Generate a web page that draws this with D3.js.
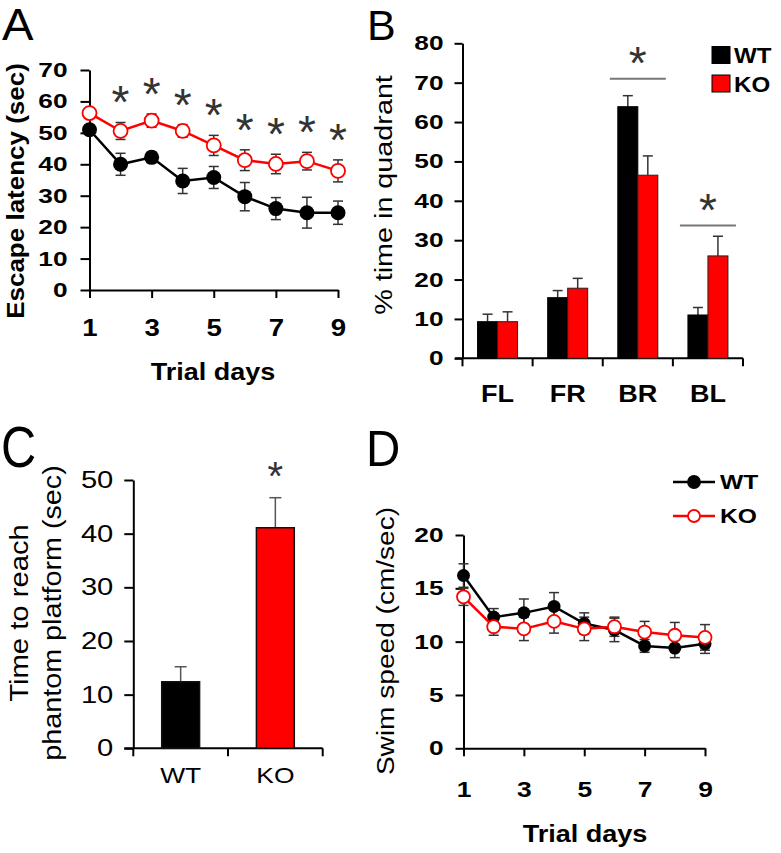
<!DOCTYPE html>
<html><head><meta charset="utf-8">
<script src="https://cdn.jsdelivr.net/npm/d3@7"></script>
<style>
html,body{margin:0;padding:0;background:#fff;}
svg{display:block;font-family:"Liberation Sans",Arial,Helvetica,sans-serif;}
</style></head><body>
<svg id="chart" width="781" height="853"></svg>
<script>
// ---------- DATA ----------
const days = [1, 2, 3, 4, 5, 6, 7, 8, 9];
const dayTicks = [1, 3, 5, 7, 9];

// Panel A: escape latency (sec)
const latencyWT    = [51.0, 40.0, 42.2, 34.7, 35.8, 29.7, 25.9, 24.6, 24.6];
const latencyWTErr = [1.5, 3.5, 1.7, 4.0, 3.5, 4.5, 3.5, 4.9, 3.7];
const latencyKO    = [56.3, 50.6, 53.9, 50.6, 46.0, 41.3, 40.1, 41.0, 37.9];
const latencyKOErr = [1.2, 2.7, 2.1, 2.0, 3.2, 3.3, 3.1, 2.8, 3.5];
const latencySig   = [false, true, true, true, true, true, true, true, true];
const latencyTicks = [0, 10, 20, 30, 40, 50, 60, 70];

// Panel B: % time in quadrant
const quadrants  = ["FL", "FR", "BR", "BL"];
const quadWT     = [9.3, 15.4, 63.9, 11.0];
const quadWTErr  = [1.9, 1.8, 2.8, 1.9];
const quadKO     = [9.3, 17.8, 46.5, 26.0];
const quadKOErr  = [2.5, 2.5, 4.9, 5.0];
const quadSigCats   = ["BR", "BL"];
const quadSigLevels = [71.0, 33.7];
const quadTicks  = [0, 10, 20, 30, 40, 50, 60, 70, 80];

// Panel C: time to reach phantom platform (sec)
const genotypes   = ["WT", "KO"];
const phantomVal  = [12.4, 41.1];
const phantomErr  = [2.8, 5.6];
const phantomSig  = [false, true];
const phantomTicks = [0, 10, 20, 30, 40, 50];

// Panel D: swim speed (cm/sec)
const speedWT    = [16.2, 12.3, 12.7, 13.3, 11.7, 11.1, 9.6, 9.4, 9.8];
const speedWTErr = [1.1, 0.8, 1.3, 1.3, 1.0, 1.1, 0.6, 0.9, 0.9];
const speedKO    = [14.2, 11.4, 11.2, 11.9, 11.2, 11.4, 10.9, 10.6, 10.4];
const speedKOErr = [0.8, 0.8, 1.1, 1.1, 1.1, 0.9, 1.0, 1.2, 1.2];
const speedTicks = [0, 5, 10, 15, 20];

// ---------- HELPERS ----------
const RED = "#ff0000";
const svg = d3.select("#chart");

function widen(sel, k) {
  sel.each(function () {
    const L = this.getComputedTextLength();
    d3.select(this).attr("textLength", L * k).attr("lengthAdjust", "spacingAndGlyphs");
  });
}
function styleAxis(g, size, weight, k) {
  g.select(".domain").attr("stroke", "#000").attr("stroke-width", 2);
  g.selectAll(".tick line").attr("stroke", "#000").attr("stroke-width", 2);
  const t = g.selectAll(".tick text").attr("fill", "#000")
    .attr("font-family", '"Liberation Sans", Arial, sans-serif')
    .attr("font-size", size).attr("font-weight", weight);
  widen(t, k);
}
function label(x, y, txt, size, weight, k, rotate, anchor) {
  const t = svg.append("text")
    .attr("transform", `translate(${x},${y})` + (rotate ? " rotate(-90)" : ""))
    .attr("text-anchor", anchor || "middle")
    .attr("font-size", size).attr("font-weight", weight || "normal")
    .attr("fill", "#000").text(txt);
  widen(t, k);
  return t;
}
function star(g, cx, cy, size) {
  const t = g.append("text").attr("x", cx).attr("y", cy)
    .attr("text-anchor", "middle").attr("font-size", size)
    .attr("fill", "#333").text("*");
  const b = t.node().getBBox();
  t.attr("y", cy + (cy - (b.y + b.height / 2)));
  return t;
}
function errBar(g, x, y0, y1, cap, color, sw) {
  g.append("line").attr("x1", x).attr("x2", x).attr("y1", y0).attr("y2", y1)
    .attr("stroke", color).attr("stroke-width", sw);
  g.append("line").attr("x1", x - cap).attr("x2", x + cap).attr("y1", y1).attr("y2", y1)
    .attr("stroke", color).attr("stroke-width", sw);
}
function errBarBoth(g, x, yLo, yHi, cap, color, sw) {
  g.append("line").attr("x1", x).attr("x2", x).attr("y1", yLo).attr("y2", yHi)
    .attr("stroke", color).attr("stroke-width", sw);
  [yLo, yHi].forEach(yy => g.append("line").attr("x1", x - cap).attr("x2", x + cap)
    .attr("y1", yy).attr("y2", yy).attr("stroke", color).attr("stroke-width", sw));
}

// ---------- PANEL LETTERS ----------
label(2, 40, "A", 45, "normal", 1.05, false, "start");
label(367, 40, "B", 43, "normal", 1.0, false, "start");
label(1, 467, "C", 58, "normal", 0.84, false, "start");
label(366, 466, "D", 50, "normal", 0.95, false, "start");

// ---------- PANEL A ----------
(function () {
  const x = d3.scaleLinear().domain([1, 9]).range([89.5, 338]);
  const y = d3.scaleLinear().domain([0, 70]).range([290, 70]);
  const g = svg.append("g");
  const ay = g.append("g").attr("transform", `translate(${x(1)},0)`)
    .call(d3.axisLeft(y).tickValues(latencyTicks).tickSize(9).tickSizeOuter(0).tickPadding(13));
  styleAxis(ay, 20.5, "bold", 1.28);
  const ax = g.append("g").attr("transform", `translate(0,${y(0)})`)
    .call(d3.axisBottom(x).tickValues(dayTicks).tickSize(8).tickSizeOuter(0).tickPadding(22));
  styleAxis(ax, 23, "bold", 1.2);

  const eb = g.append("g");
  days.forEach((d, i) => {
    errBarBoth(eb, x(d), y(latencyWT[i] - latencyWTErr[i]), y(latencyWT[i] + latencyWTErr[i]), 5, "#333", 1.5);
    errBarBoth(eb, x(d), y(latencyKO[i] - latencyKOErr[i]), y(latencyKO[i] + latencyKOErr[i]), 5, "#333", 1.5);
  });
  const line = d3.line().x((v, i) => x(days[i])).y(v => y(v));
  g.append("path").datum(latencyWT).attr("d", line).attr("fill", "none").attr("stroke", "#000").attr("stroke-width", 2.5);
  g.append("path").datum(latencyKO).attr("d", line).attr("fill", "none").attr("stroke", RED).attr("stroke-width", 2.5);
  g.selectAll(".wtA").data(latencyWT).join("circle").attr("cx", (v, i) => x(days[i])).attr("cy", v => y(v))
    .attr("r", 7.5).attr("fill", "#000");
  g.selectAll(".koA").data(latencyKO).join("circle").attr("cx", (v, i) => x(days[i])).attr("cy", v => y(v))
    .attr("r", 7).attr("fill", "#fff").attr("stroke", RED).attr("stroke-width", 1.8);
  days.forEach((d, i) => {
    if (latencySig[i]) star(g, x(d), y(latencyKO[i] + latencyKOErr[i]) - 20, 46);
  });
  label(213, 380, "Trial days", 24.5, "bold", 1.1);
  label(23.5, 191, "Escape latency (sec)", 23, "bold", 1.13, true);
})();

// ---------- PANEL B ----------
(function () {
  const x = d3.scaleBand().domain(quadrants).range([462.5, 743]).padding(0);
  const xs = d3.scaleBand().domain(genotypes).range([x.bandwidth() / 2 - 20, x.bandwidth() / 2 + 20]);
  const y = d3.scaleLinear().domain([0, 80]).range([358.3, 43.3]);
  const g = svg.append("g");
  const ay = g.append("g").attr("transform", `translate(${x.range()[0]},0)`)
    .call(d3.axisLeft(y).tickValues(quadTicks).tickSize(8).tickSizeOuter(0).tickPadding(11));
  styleAxis(ay, 20.5, "bold", 1.28);
  g.append("line").attr("x1", 455).attr("x2", x.range()[1]).attr("y1", y(0)).attr("y2", y(0))
    .attr("stroke", "#000").attr("stroke-width", 2);
  const bounds = quadrants.map(q => x(q)).concat([x.range()[1]]);
  bounds.forEach(bx => g.append("line").attr("x1", bx).attr("x2", bx).attr("y1", y(0)).attr("y2", y(0) + 8)
    .attr("stroke", "#000").attr("stroke-width", 2));
  quadrants.forEach(q => label(x(q) + x.bandwidth() / 2, 402, q, 23.5, "bold", 1.15));

  const eb = g.append("g");
  quadrants.forEach((q, i) => {
    const xw = x(q) + xs("WT") + xs.bandwidth() / 2, xk = x(q) + xs("KO") + xs.bandwidth() / 2;
    errBar(eb, xw, y(quadWT[i]), y(quadWT[i] + quadWTErr[i]), 5, "#333", 1.5);
    errBar(eb, xk, y(quadKO[i]), y(quadKO[i] + quadKOErr[i]), 5, "#333", 1.5);
  });
  g.selectAll(".bWT").data(quadWT).join("rect")
    .attr("x", (v, i) => x(quadrants[i]) + xs("WT")).attr("width", xs.bandwidth())
    .attr("y", v => y(v)).attr("height", v => y(0) - y(v)).attr("fill", "#000").attr("stroke", "#000").attr("stroke-width", 1);
  g.selectAll(".bKO").data(quadKO).join("rect")
    .attr("x", (v, i) => x(quadrants[i]) + xs("KO")).attr("width", xs.bandwidth())
    .attr("y", v => y(v)).attr("height", v => y(0) - y(v)).attr("fill", RED).attr("stroke", "#222").attr("stroke-width", 1);

  quadSigCats.forEach((q, i) => {
    const cx = x(q) + x.bandwidth() / 2;
    g.append("line").attr("x1", cx - 28).attr("x2", cx + 28).attr("y1", y(quadSigLevels[i])).attr("y2", y(quadSigLevels[i]))
      .attr("stroke", "#777").attr("stroke-width", 2);
    star(g, cx, y(quadSigLevels[i]) - 16, 46);
  });

  [["WT", "#000"], ["KO", RED]].forEach(([name, col], i) => {
    g.append("rect").attr("x", 712).attr("y", 46.5 + i * 28.5).attr("width", 18).attr("height", 17)
      .attr("fill", col).attr("stroke", "#000").attr("stroke-width", 1);
    label(734, 63 + i * 28.5, name, 21.5, "bold", 1.12, false, "start");
  });
  label(392, 195, "% time in quadrant", 23, "normal", 1.25, true);
})();

// ---------- PANEL C ----------
(function () {
  const x = d3.scaleBand().domain(genotypes).range([133.3, 322.7]).paddingInner(0.6).paddingOuter(0.3);
  const y = d3.scaleLinear().domain([0, 50]).range([748.3, 480]);
  const g = svg.append("g");
  const ay = g.append("g").attr("transform", `translate(${x.range()[0]},0)`)
    .call(d3.axisLeft(y).tickValues(phantomTicks).tickSize(9).tickSizeOuter(0).tickPadding(11));
  styleAxis(ay, 23.5, "normal", 1.24);
  g.append("line").attr("x1", x.range()[0] - 9).attr("x2", x.range()[1]).attr("y1", y(0)).attr("y2", y(0))
    .attr("stroke", "#000").attr("stroke-width", 2);
  const r0 = x.range()[0], r1 = x.range()[1];
  [r0, (r0 + r1) / 2, r1].forEach(bx => g.append("line").attr("x1", bx).attr("x2", bx).attr("y1", y(0)).attr("y2", y(0) + 8)
    .attr("stroke", "#000").attr("stroke-width", 2));
  genotypes.forEach(gn => label(x(gn) + x.bandwidth() / 2, 783, gn, 22, "normal", 1.2));

  const eb = g.append("g");
  genotypes.forEach((gn, i) => errBar(eb, x(gn) + x.bandwidth() / 2, y(phantomVal[i]), y(phantomVal[i] + phantomErr[i]), 6, "#555", 1.5));
  g.selectAll(".bC").data(phantomVal).join("rect")
    .attr("x", (v, i) => x(genotypes[i])).attr("width", x.bandwidth())
    .attr("y", v => y(v)).attr("height", v => y(0) - y(v))
    .attr("fill", (v, i) => i === 0 ? "#000" : RED).attr("stroke", "#111").attr("stroke-width", 1.5);
  genotypes.forEach((gn, i) => {
    if (phantomSig[i]) star(g, x(gn) + x.bandwidth() / 2, y(phantomVal[i] + phantomErr[i]) - 22, 40);
  });
  label(28, 613, "Time to reach", 25, "normal", 1.17, true);
  label(61, 613, "phantom platform (sec)", 25, "normal", 1.15, true);
})();

// ---------- PANEL D ----------
(function () {
  const x = d3.scaleLinear().domain([1, 9]).range([463.5, 705]);
  const y = d3.scaleLinear().domain([0, 20]).range([748.3, 535]);
  const g = svg.append("g");
  const ay = g.append("g").attr("transform", `translate(${x(1)},0)`)
    .call(d3.axisLeft(y).tickValues(speedTicks).tickSize(8).tickSizeOuter(0).tickPadding(12));
  styleAxis(ay, 20.5, "bold", 1.28);
  const ax = g.append("g").attr("transform", `translate(0,${y(0)})`)
    .call(d3.axisBottom(x).tickValues(dayTicks).tickSize(8).tickSizeOuter(0).tickPadding(25));
  styleAxis(ax, 22, "bold", 1.2);

  const eb = g.append("g");
  days.forEach((d, i) => {
    errBarBoth(eb, x(d), y(speedWT[i] - speedWTErr[i]), y(speedWT[i] + speedWTErr[i]), 5, "#333", 1.5);
    errBarBoth(eb, x(d), y(speedKO[i] - speedKOErr[i]), y(speedKO[i] + speedKOErr[i]), 5, "#333", 1.5);
  });
  const line = d3.line().x((v, i) => x(days[i])).y(v => y(v));
  g.append("path").datum(speedWT).attr("d", line).attr("fill", "none").attr("stroke", "#000").attr("stroke-width", 2.5);
  g.selectAll(".wtD").data(speedWT).join("circle").attr("cx", (v, i) => x(days[i])).attr("cy", v => y(v))
    .attr("r", 6.5).attr("fill", "#000");
  g.append("path").datum(speedKO).attr("d", line).attr("fill", "none").attr("stroke", RED).attr("stroke-width", 2.5);
  g.selectAll(".koD").data(speedKO).join("circle").attr("cx", (v, i) => x(days[i])).attr("cy", v => y(v))
    .attr("r", 6.5).attr("fill", "#fff").attr("stroke", RED).attr("stroke-width", 1.8);

  [["WT", "#000", "#000"], ["KO", RED, "#fff"]].forEach(([name, col, fill], i) => {
    const ly = 482 + i * 34;
    g.append("line").attr("x1", 673).attr("x2", 715).attr("y1", ly).attr("y2", ly).attr("stroke", col).attr("stroke-width", 2.5);
    g.append("circle").attr("cx", 694).attr("cy", ly).attr("r", 6).attr("fill", fill).attr("stroke", col).attr("stroke-width", 1.8);
    label(720, ly + 7, name, 20.5, "bold", 1.2, false, "start");
  });
  label(585, 842, "Trial days", 23.5, "bold", 1.15);
  label(394, 641, "Swim speed (cm/sec)", 23, "normal", 1.22, true);
})();
</script>
</body></html>
